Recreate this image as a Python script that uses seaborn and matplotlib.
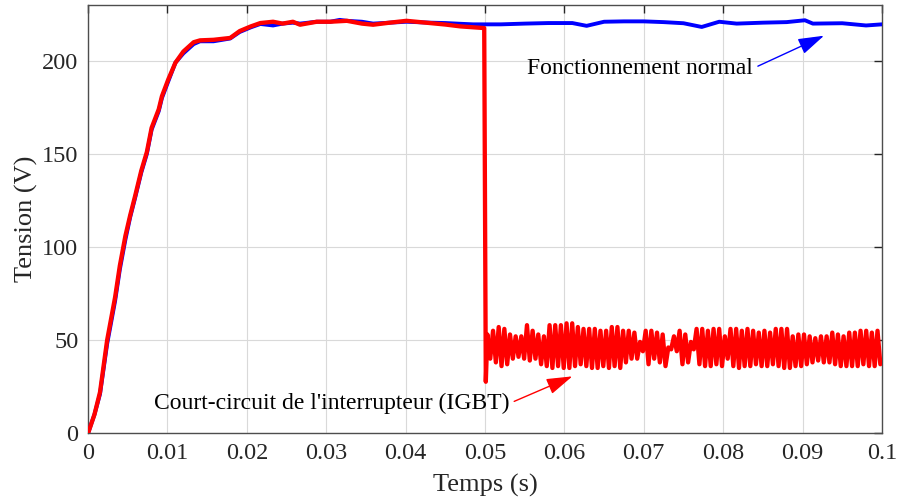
import numpy as np
import pandas as pd
import matplotlib
matplotlib.use('Agg')
import matplotlib.pyplot as plt
import seaborn as sns

# Startup (shared time base for both curves, up to the fault)
t_rise = [0, 0.0008, 0.0015, 0.0024, 0.0034, 0.004, 0.0047, 0.0053,
          0.0059, 0.0067, 0.0074, 0.008, 0.0089, 0.0093, 0.0101, 0.011,
          0.012, 0.0133, 0.0141, 0.0158, 0.0179, 0.0191, 0.0205, 0.0217,
          0.0233, 0.0245, 0.0258, 0.0267, 0.0288, 0.0305, 0.0317, 0.0326,
          0.0345, 0.0359, 0.038, 0.0401, 0.0431, 0.045, 0.0469, 0.0485,
          0.0499]
v_normal_rise = [0, 10, 21, 48, 71, 88, 104, 116, 126, 140, 150, 163,
                 173, 180, 189, 199, 204, 209, 210.5, 210.5, 212, 215.5,
                 218, 219.8, 219, 220, 220.5, 220, 221, 221, 222, 221.5,
                 221, 220, 220.5, 221, 220.5, 220.3, 219.9, 219.6, 219.6]
v_fault_rise = [0, 10, 22, 50, 73, 90, 106, 117, 127, 141, 151, 164,
                174, 181, 190, 199, 205, 210, 211, 211.3, 212.3, 216,
                218.5, 220.3, 221, 220, 221, 219.4, 221, 221, 221.3, 221.5,
                220, 219.4, 220.5, 221.5, 220.3, 219.5, 218.5, 218, 217.6]

# Normal operation after 0.05 s
t_normal_end = [0.052, 0.055, 0.058, 0.061, 0.0628, 0.065, 0.0675, 0.07,
                0.0725, 0.075, 0.0773, 0.0795, 0.0817, 0.085, 0.088,
                0.0903, 0.0913, 0.095, 0.098, 0.1]
v_normal_end = [219.6, 220, 220.3, 220.3, 218.8, 221, 221.2, 221.2,
                220.8, 220.2, 218.2, 221, 220, 220.5, 220.8, 221.8, 220,
                220.2, 219, 219.6]

# IGBT short-circuit: drop at 0.05 s then oscillation (peaks / troughs)
t_drop = 0.0501
v_drop = 27.6
peaks = [53, 55, 57, 56, 53, 52, 52, 58, 55, 53, 52, 58, 58, 58, 59, 59,
         57, 56, 56, 56, 55, 55, 57, 57, 55, 55, 54, 49, 55, 55, 54, 53,
         46, 52, 55, 53, 49, 56, 56, 55, 56, 56, 52, 56, 56, 55, 56, 55,
         54, 55, 54, 56, 56, 56, 52, 53, 53, 52, 51, 52, 52, 54, 53, 52,
         54, 54, 55, 55, 54, 55]
troughs = [40, 38, 36, 37, 40, 41, 40, 39, 40, 37, 36, 35, 36, 35, 35, 36,
           37, 36, 35, 35, 36, 35, 36, 35, 38, 40, 40, 44, 37, 40, 38, 36,
           45, 44, 37, 38, 45, 37, 36, 36, 37, 36, 40, 36, 35, 36, 36, 37,
           36, 36, 37, 36, 35, 35, 36, 36, 37, 38, 39, 38, 38, 37, 36, 36,
           36, 36, 37, 36, 36, 37]

t_osc = np.linspace(0.0503, 0.0998, 2 * len(peaks))
v_osc = np.ravel(np.column_stack([peaks, troughs]))

normal = pd.DataFrame({'t': t_rise + t_normal_end,
                       'v': v_normal_rise + v_normal_end})
fault = pd.DataFrame({'t': t_rise + [t_drop] + list(t_osc),
                      'v': v_fault_rise + [v_drop] + list(v_osc)})

sns.set_style('white')
plt.rcParams['font.family'] = ['Liberation Serif', 'DejaVu Serif']

fig = plt.figure(figsize=(8.99, 4.99), dpi=100)
ax = fig.add_axes([0.098, 0.132, 0.883, 0.858])

sns.lineplot(data=normal, x='t', y='v', color='#0000ff', lw=2.8,
             sort=False, estimator=None, ax=ax, zorder=3)
sns.lineplot(data=fault, x='t', y='v', color='#ff0000', lw=3.1,
             sort=False, estimator=None, ax=ax, zorder=4)

ax.set_xlim(0, 0.1)
ax.set_ylim(0, 230)
ax.set_xticks(np.arange(0, 0.101, 0.01))
ax.set_xticklabels(['0', '0.01', '0.02', '0.03', '0.04', '0.05', '0.06',
                    '0.07', '0.08', '0.09', '0.1'])
ax.set_yticks([0, 50, 100, 150, 200])
ax.grid(True, color='#d9d9d9', lw=0.8)
ax.set_axisbelow(True)
ax.tick_params(direction='in', length=6, width=1, top=True, right=True,
               labelsize=17.5, colors='#262626', pad=7)
for s in ax.spines.values():
    s.set_color('#4d4d4d')
    s.set_linewidth(1)

ax.set_xlabel('Temps (s)', fontsize=19, color='#262626', labelpad=7)
ax.set_ylabel('Tension (V)', fontsize=19, color='#262626', labelpad=3)

arrow_style = '-|>,head_length=0.8,head_width=0.25'
ax.annotate('Fonctionnement normal', xy=(0.0927, 213.5),
            xytext=(0.0838, 196), fontsize=17, color='black',
            ha='right', va='center',
            arrowprops=dict(arrowstyle=arrow_style, color='#0000ff', lw=1,
                            mutation_scale=20, shrinkA=1, shrinkB=0,
                            relpos=(1, 0.5)))
ax.annotate("Court-circuit de l'interrupteur (IGBT)", xy=(0.061, 30.5),
            xytext=(0.0531, 16), fontsize=17, color='black',
            ha='right', va='center',
            arrowprops=dict(arrowstyle=arrow_style, color='#ff0000', lw=1,
                            mutation_scale=20, shrinkA=1, shrinkB=0,
                            relpos=(1, 0.5)))

fig.savefig('out.png', dpi=100)
